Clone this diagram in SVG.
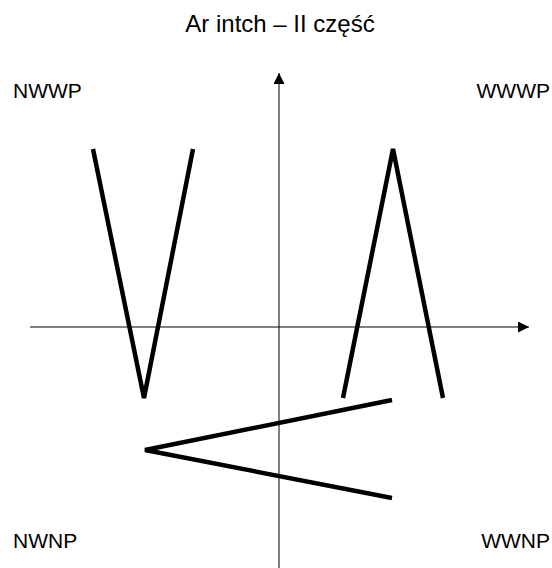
<svg xmlns="http://www.w3.org/2000/svg" width="552" height="568" viewBox="0 0 552 568">
<style>
text{font-family:"Liberation Sans",Arial,sans-serif;fill:#000}
.lbl{font-size:21px}
.ttl{font-size:24px}
.axis{stroke:#000;stroke-width:1;fill:none}
.shape{stroke:#000;stroke-width:4.5;fill:none;stroke-linejoin:miter}
</style>
<defs>
<marker id="arr" markerWidth="12" markerHeight="12" refX="11" refY="5.5" orient="auto" markerUnits="userSpaceOnUse">
<path d="M0,0 L11,5.5 L0,11 Z" fill="#000"/>
</marker>
</defs>
<rect width="552" height="568" fill="#fff"/>
<text class="ttl" x="280" y="32" text-anchor="middle">Ar intch – II część</text>
<g id="labels">
<text class="lbl" x="13" y="98">NWWP</text>
<text class="lbl" x="550" y="98" text-anchor="end">WWWP</text>
<text class="lbl" x="13" y="548">NWNP</text>
<text class="lbl" x="550" y="548" text-anchor="end">WWNP</text>
</g>
<g id="connectors">
<line class="axis" x1="279" y1="568" x2="279" y2="73" marker-end="url(#arr)"/>
<line class="axis" x1="30" y1="327" x2="529" y2="327" marker-end="url(#arr)"/>
</g>
<g id="shapeV"><polyline class="shape" points="93,149 144,398 193,149"/></g>
<g id="shapeA"><polyline class="shape" points="343,398 393,149 443,398"/></g>
<g id="shapeLT"><polyline class="shape" points="392,400 145,450 392,498"/></g>
</svg>
